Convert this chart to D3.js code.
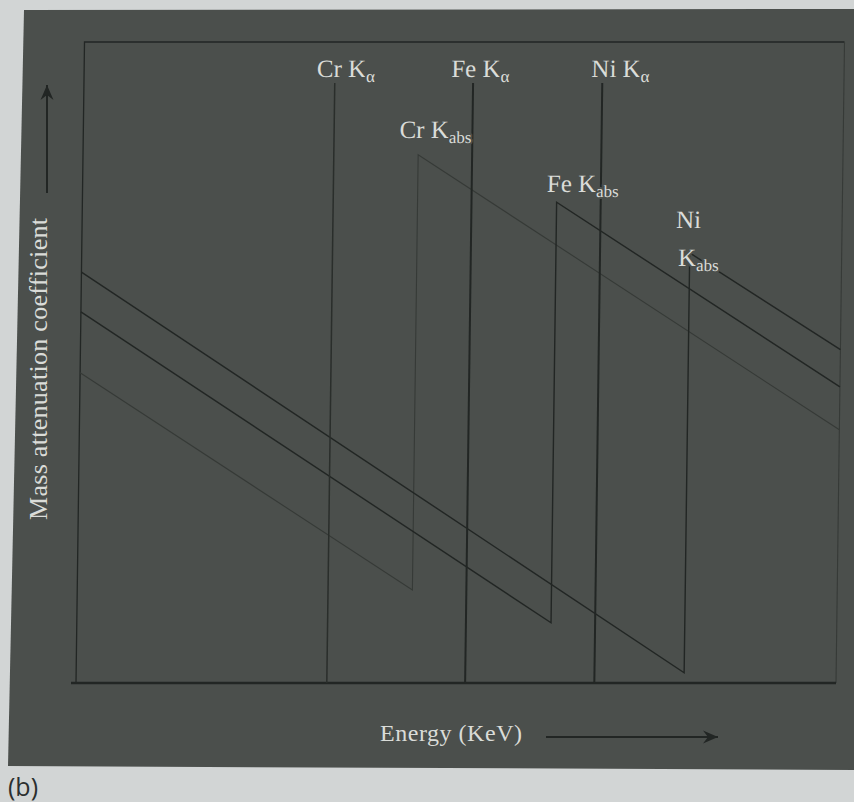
<!DOCTYPE html>
<html>
<head>
<meta charset="utf-8">
<script src="https://cdn.jsdelivr.net/npm/d3@7"></script>
<style>
    html, body { margin: 0; padding: 0; background: #d2d5d5; }
    svg { display: block; }
    .lbl { font-family: "Liberation Serif", "Times New Roman", serif; font-size: 25px; fill: #dadcd8;
           stroke: #4b4f4c; stroke-width: 4px; paint-order: stroke fill; stroke-linejoin: round; }
</style>
</head>
<body>
<div id="chart"></div>
<script>
/**
 * Mass attenuation coefficient vs energy - schematic K edges of Cr, Fe, Ni
 * with the K-alpha emission lines (arbitrary units on both axes).
 */
(function() {
    'use strict';

    // ---- data (arbitrary units 0-100) ----
    var elements = ['Cr', 'Fe', 'Ni'];
    var energyDomain = [0, 100];
    var muDomain = [0, 100];
    var kAlphaEnergy = [33.0, 51.2, 68.2];
    var kAlphaTop = [93.6, 93.6, 93.6];
    var kAbsEnergy = [44.1, 62.4, 80.0];
    var muAtStart = [48.4, 57.9, 64.1];     // at lowest energy
    var muBelowEdge = [14.5, 9.4, 1.6];     // just below the K edge
    var muAboveEdge = [82.4, 75.0, 67.1];   // just above the K edge
    var muAtEnd = [39.5, 46.2, 52.0];       // at highest energy

    // ---- layout ----
    var W = 854, H = 802;
    var colors = {
        page: '#d2d5d5',
        panel: '#4b4f4c',
        ink: '#222624',
        faint: '#363a37',
        text: '#dadcd8',
        caption: '#2b2f2f'
    };
    // label offsets (px) from the top of each line
    var alphaLabelPos = [{ dx: -18, dy: -6 }, { dx: -22, dy: -6 }, { dx: -11, dy: -6 }];
    var absLabelPos = [
        { dx: -19, dy: -17 },
        { dx: -10, dy: -10 },
        { dx: -14, dy: -25, split: true, dx2: -11.5, dy2: 13 }
    ];

    var svg = d3.select('#chart').append('svg')
        .attr('width', W)
        .attr('height', H);

    var defs = svg.append('defs');
    defs.append('marker')
        .attr('id', 'arrow')
        .attr('viewBox', '-16 -8 17 16')
        .attr('refX', 0)
        .attr('refY', 0)
        .attr('markerWidth', 17)
        .attr('markerHeight', 16)
        .attr('markerUnits', 'userSpaceOnUse')
        .attr('orient', 'auto')
        .append('path')
        .attr('d', 'M0,0 L-15,-6.5 L-10,0 L-15,6.5 Z')
        .attr('fill', colors.ink);

    // photographed page: light paper + dark figure panel
    svg.append('rect').attr('width', W).attr('height', H).attr('fill', colors.page);
    svg.append('path')
        .attr('d', 'M24,10 L854,9 L854,770 L8,766 Z')
        .attr('fill', colors.panel);

    var x = d3.scaleLinear().domain(energyDomain).range([76, 836]);
    var y = d3.scaleLinear().domain(muDomain).range([683, 42]);

    // slight skew, as in the photo
    var plot = svg.append('g')
        .attr('transform', 'translate(0,683) skewX(-0.76) translate(0,-683)');

    // frame
    plot.append('path')
        .attr('d', d3.line()([[x(0), y(0)], [x(0), y(100)], [x(100), y(100)]]))
        .attr('fill', 'none')
        .attr('stroke', colors.ink)
        .attr('stroke-width', 1.3);
    plot.append('line')
        .attr('x1', x(100)).attr('x2', x(100))
        .attr('y1', y(100)).attr('y2', y(0))
        .attr('stroke', colors.faint)
        .attr('stroke-width', 1.1);
    plot.append('line')
        .attr('x1', x(0) - 5).attr('x2', x(100))
        .attr('y1', y(0)).attr('y2', y(0))
        .attr('stroke', colors.ink)
        .attr('stroke-width', 2.6);

    // absorption curves with their K edges
    var curves = elements.map(function(el, i) {
        return {
            name: el,
            points: [
                [energyDomain[0], muAtStart[i]],
                [kAbsEnergy[i], muBelowEdge[i]],
                [kAbsEnergy[i], muAboveEdge[i]],
                [energyDomain[1], muAtEnd[i]]
            ]
        };
    });
    var line = d3.line()
        .x(function(d) { return x(d[0]); })
        .y(function(d) { return y(d[1]); });

    plot.selectAll('path.curve')
        .data(curves)
        .join('path')
        .attr('class', 'curve')
        .attr('d', function(d) { return line(d.points); })
        .attr('fill', 'none')
        .attr('stroke', function(d, i) { return i === 0 ? colors.faint : colors.ink; })
        .attr('stroke-width', function(d, i) { return i === 0 ? 1.1 : 1.4; })
        .attr('stroke-linejoin', 'miter');

    // K-alpha emission lines
    plot.selectAll('line.kalpha')
        .data(elements)
        .join('line')
        .attr('class', 'kalpha')
        .attr('x1', function(d, i) { return x(kAlphaEnergy[i]); })
        .attr('x2', function(d, i) { return x(kAlphaEnergy[i]); })
        .attr('y1', y(0))
        .attr('y2', function(d, i) { return y(kAlphaTop[i]); })
        .attr('stroke', function(d, i) { return i === 0 ? '#2a2e2b' : colors.ink; })
        .attr('stroke-width', function(d, i) { return i === 0 ? 1.5 : 2; });

    function addLabel(px, py, main, sub) {
        var t = plot.append('text')
            .attr('class', 'lbl')
            .attr('x', px)
            .attr('y', py);
        t.append('tspan').text(main);
        if (sub) {
            t.append('tspan').attr('dy', 5).attr('font-size', 17).text(sub);
        }
    }

    elements.forEach(function(el, i) {
        var p = alphaLabelPos[i];
        addLabel(x(kAlphaEnergy[i]) + p.dx, y(kAlphaTop[i]) + p.dy, el + ' K', 'α');

        var q = absLabelPos[i];
        var ax = x(kAbsEnergy[i]);
        var ay = y(muAboveEdge[i]);
        if (q.split) {
            addLabel(ax + q.dx, ay + q.dy, el, null);
            addLabel(ax + q.dx2, ay + q.dy2, 'K', 'abs');
        } else {
            addLabel(ax + q.dx, ay + q.dy, el + ' K', 'abs');
        }
    });

    // axis titles and arrows
    svg.append('text')
        .attr('x', 380)
        .attr('y', 741)
        .attr('textLength', 142)
        .attr('lengthAdjust', 'spacing')
        .style('font-family', '"Liberation Serif", "Times New Roman", serif')
        .style('font-size', '24px')
        .attr('fill', colors.text)
        .text('Energy (KeV)');
    svg.append('line')
        .attr('x1', 546).attr('x2', 718)
        .attr('y1', 737).attr('y2', 737)
        .attr('stroke', colors.ink)
        .attr('stroke-width', 2)
        .attr('marker-end', 'url(#arrow)');

    svg.append('text')
        .attr('transform', 'translate(47,520) rotate(-90)')
        .attr('textLength', 302)
        .attr('lengthAdjust', 'spacing')
        .style('font-family', '"Liberation Serif", "Times New Roman", serif')
        .style('font-size', '26px')
        .attr('fill', colors.text)
        .text('Mass attenuation coefficient');
    svg.append('line')
        .attr('x1', 47).attr('x2', 47)
        .attr('y1', 193).attr('y2', 85)
        .attr('stroke', colors.ink)
        .attr('stroke-width', 2)
        .attr('marker-end', 'url(#arrow)');

    svg.append('text')
        .attr('x', 8)
        .attr('y', 796)
        .style('font-family', '"Open Sans", "DejaVu Sans", sans-serif')
        .style('font-size', '25px')
        .attr('fill', colors.caption)
        .text('(b)');
})();
</script>
</body>
</html>
